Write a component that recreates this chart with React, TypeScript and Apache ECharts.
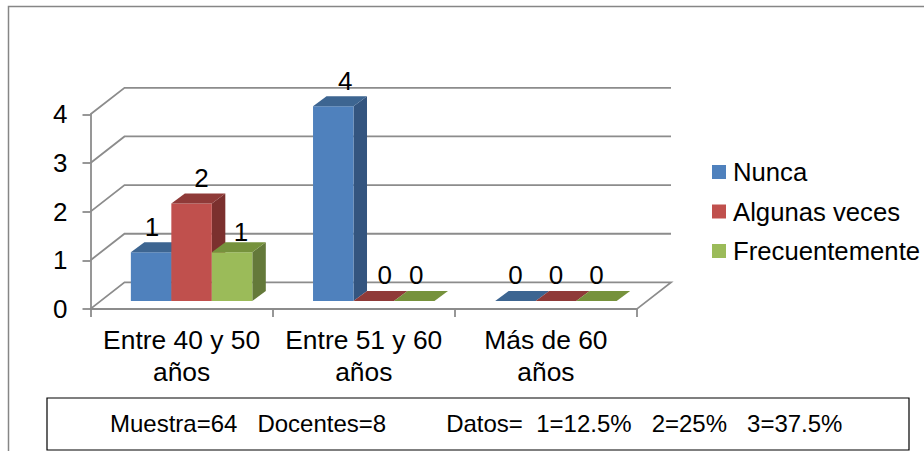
import React, { useEffect, useRef } from "react";
import * as echarts from "echarts";

const categories = ["Entre 40 y 50\naños", "Entre 51 y 60\naños", "Más de 60\naños"];
const seriesNames = ["Nunca", "Algunas veces", "Frecuentemente"];
const nunca = [1, 4, 0];
const algunasVeces = [2, 0, 0];
const frecuentemente = [1, 0, 0];
const yTicks = [0, 1, 2, 3, 4];
const note = "Muestra=64   Docentes=8         Datos=  1=12.5%   2=25%   3=37.5%";

const FONT = '"Liberation Sans", Arial, sans-serif';
const GRID = "#8c8c8c";
const frontColors = ["#4F81BD", "#C0504D", "#9BBB59"];
const topColors = ["#3D6591", "#8F3A38", "#76923C"];
const sideColors = ["#34557F", "#7B302E", "#64793A"];

// hand-placed data labels in the reference: nudge from the default spot, per series and category
const labelNudge = [
  [[1, 1], [12, 1], [0, 0]],
  [[10, 0], [11, 0], [0, 0]],
  [[9, 6], [2, 0], [0, 0]],
];

const WALL_DX = 34;
const WALL_DY = -26.5;
const BAR_SHIFT_X = 10;
const BAR_SHIFT_Y = -8;
const BAR_DX = 13.5;
const BAR_DY = -10;

function wallSeries() {
  return {
    type: "custom",
    name: "wall",
    silent: true,
    z: 1,
    data: yTicks.map((v) => [0, v]),
    encode: { x: 0, y: 1 },
    renderItem: (params: any, api: any) => {
      const sys = params.coordSys;
      const v = api.value(1);
      const y = api.coord([0, v])[1];
      const L = sys.x;
      const R = sys.x + sys.width;
      const points = [
        [L, y],
        [L + WALL_DX, y + WALL_DY],
        [R + WALL_DX, y + WALL_DY],
      ];
      if (v === 0) points.push([R, y]);
      return { type: "polyline", shape: { points }, style: { stroke: GRID, lineWidth: 1.8, fill: "none" } };
    },
  };
}

function barSeries(name: string, values: number[], s: number) {
  return {
    type: "custom",
    name,
    z: 3,
    itemStyle: { color: frontColors[s] },
    data: values.map((v, i) => [i, v]),
    encode: { x: 0, y: 1 },
    renderItem: (_: any, api: any) => {
      const c = api.value(0);
      const v = api.value(1);
      const [cx, yTop0] = api.coord([c, v]);
      const yBase0 = api.coord([c, 0])[1];
      const w = api.size([1, 0])[0] / 4.5;
      const x0 = cx + (s - 1.5) * w + BAR_SHIFT_X;
      const x1 = x0 + w;
      const yTop = yTop0 + BAR_SHIFT_Y;
      const yBase = yBase0 + BAR_SHIFT_Y;
      const children: any[] = [];
      if (v > 0) {
        children.push({
          type: "polygon",
          shape: { points: [[x1, yTop], [x1 + BAR_DX, yTop + BAR_DY], [x1 + BAR_DX, yBase + BAR_DY], [x1, yBase]] },
          style: { fill: sideColors[s] },
        });
        children.push({ type: "rect", shape: { x: x0, y: yTop, width: w, height: yBase - yTop }, style: { fill: frontColors[s] } });
      }
      children.push({
        type: "polygon",
        shape: { points: [[x0, yTop], [x0 + BAR_DX, yTop + BAR_DY], [x1 + BAR_DX, yTop + BAR_DY], [x1, yTop]] },
        style: { fill: topColors[s] },
      });
      const [nx, ny] = labelNudge[s][c];
      children.push({
        type: "text",
        z2: 100,
        style: {
          text: String(v),
          x: (x0 + x1) / 2 + nx,
          y: yTop - 26 + ny,
          align: "center",
          verticalAlign: "middle",
          font: `26px ${FONT}`,
          fill: "#000",
        },
      });
      return { type: "group", children };
    },
  };
}

export default function App() {
  const ref = useRef<HTMLDivElement>(null);
  useEffect(() => {
    const chart = echarts.init(ref.current!, undefined, { renderer: "svg" });
    chart.setOption({
      animation: false,
      backgroundColor: "#fff",
      grid: { left: 90.5, top: 114.3, width: 546.5, height: 194.6 },
      legend: {
        data: seriesNames,
        orient: "vertical",
        left: 707,
        top: 152,
        icon: "rect",
        itemWidth: 14,
        itemHeight: 14,
        itemGap: 9.5,
        selectedMode: false,
        textStyle: { fontFamily: FONT, fontSize: 25.7, color: "#000", lineHeight: 30, padding: [0, 0, 0, 2] },
      },
      xAxis: {
        type: "category",
        data: categories,
        axisLine: { show: true, lineStyle: { color: GRID, width: 1.8 } },
        axisTick: { show: true, length: 8, lineStyle: { color: GRID, width: 1.8 } },
        axisLabel: { fontFamily: FONT, fontSize: 26.4, color: "#000", lineHeight: 32, margin: 15, interval: 0 },
      },
      yAxis: {
        type: "value",
        min: 0,
        max: 4,
        interval: 1,
        splitLine: { show: false },
        axisLine: { show: true, lineStyle: { color: GRID, width: 1.8 } },
        axisTick: { show: true, length: 8, lineStyle: { color: GRID, width: 1.8 } },
        axisLabel: { fontFamily: FONT, fontSize: 26, color: "#000", margin: 23, padding: [4, 0, 0, 0] },
      },
      series: [
        wallSeries(),
        barSeries(seriesNames[0], nunca, 0),
        barSeries(seriesNames[1], algunasVeces, 1),
        barSeries(seriesNames[2], frecuentemente, 2),
      ],
      graphic: [
        {
          type: "rect",
          z: 0,
          silent: true,
          shape: { x: 8.5, y: 6.5, width: 1000, height: 1000 },
          style: { fill: "none", stroke: "#868686", lineWidth: 1.5 },
        },
        {
          type: "rect",
          z: 10,
          silent: true,
          shape: { x: 47, y: 398, width: 862, height: 52 },
          style: { fill: "#fff", stroke: "#000", lineWidth: 1.2 },
        },
        {
          type: "text",
          z: 11,
          silent: true,
          x: 110,
          y: 423,
          style: { text: note, font: `24px ${FONT}`, fill: "#000", align: "left", verticalAlign: "middle" },
        },
      ],
    });
    return () => chart.dispose();
  }, []);
  return (
    <div
      ref={ref}
      style={{ position: "absolute", left: 0, top: 0, width: 924, height: 451, overflow: "hidden" }}
    />
  );
}
